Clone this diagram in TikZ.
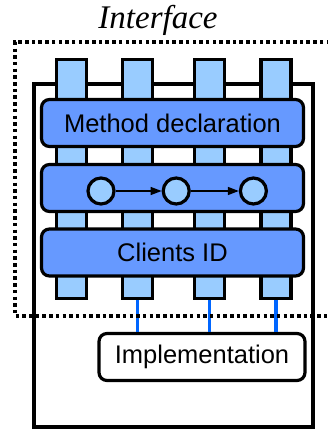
\documentclass[tikz,border=0pt]{standalone}
\usepackage{fontspec}
\setmainfont{Liberation Serif}
\setsansfont{Liberation Sans}
\usepackage{xcolor}
\definecolor{portblue}{HTML}{99CCFF}
\definecolor{boxblue}{HTML}{6699FF}
\definecolor{wireblue}{HTML}{0066FF}
\usepackage{tikz}
\usetikzlibrary{positioning,arrows.meta}
\tikzstyle{port}=[rectangle, draw=black, line width=3.2pt, fill=portblue,
        minimum width=30pt, minimum height=239pt, inner sep=0pt]
\tikzstyle{block}=[rectangle, draw=black, rounded corners=8pt, line width=3.2pt, fill=boxblue,
        minimum width=262pt, minimum height=47pt, inner sep=0pt,
        font=\sffamily\fontsize{25.5}{28}\selectfont]
\tikzstyle{impl}=[block, fill=white, minimum width=206pt]
\tikzstyle{token}=[circle, draw=black, line width=3.2pt, fill=portblue, minimum size=26pt, inner sep=0pt]
\tikzstyle{line}=[line width=1.5pt,->,>={Triangle[length=11pt,width=8pt]}]
\tikzstyle{wire}=[line width=3.5pt, draw=wireblue]

\begin{document}
\begin{tikzpicture}[x=1pt,y=-1pt]
\useasboundingbox (0,0) rectangle (328,430);

% component frame
\draw[line width=3.5pt] (34,84) rectangle (313,427);

\node (Ports1) [port] at (71.5,179) {};
\node (Ports2) [port] at (137.5,179) {};
\node (Ports3) [port] at (209.5,179) {};
\node (Ports4) [port] at (276,179) {};

\node (MethodDecl) [block] at (172.5,123) {Method declaration};
\node (Protocol) [block] at (172.5,188) {};
\node (ClientsID) [block] at (172.5,252.5) {Clients ID};
\node (Implementation) [impl] at (202,357) {Implementation};

\node (StateA) [token] at (101,191) {};
\node (StateB) [token, right=46pt of StateA] {};
\node (StateC) [token, right=48pt of StateB] {};

% draw lines
\draw[line] (StateA.east) -- (StateB.west);
\draw[line] (StateB.east) -- (StateC.west);
\draw[wire] (Ports2.south) -- (Ports2.south |- Implementation.north);
\draw[wire] (Ports3.south) -- (Ports3.south |- Implementation.north);
\draw[wire] (Ports4.south) -- (Ports4.south |- Implementation.north);

% interface boundary
\draw[line width=3.5pt, dash pattern=on 3.5pt off 3.2pt] (330,42) -| (15,316) -- (330,316);
\node (InterfaceLabel) at (158,20) {\fontsize{33}{36}\selectfont\itshape Interface};

\end{tikzpicture}
\end{document}
